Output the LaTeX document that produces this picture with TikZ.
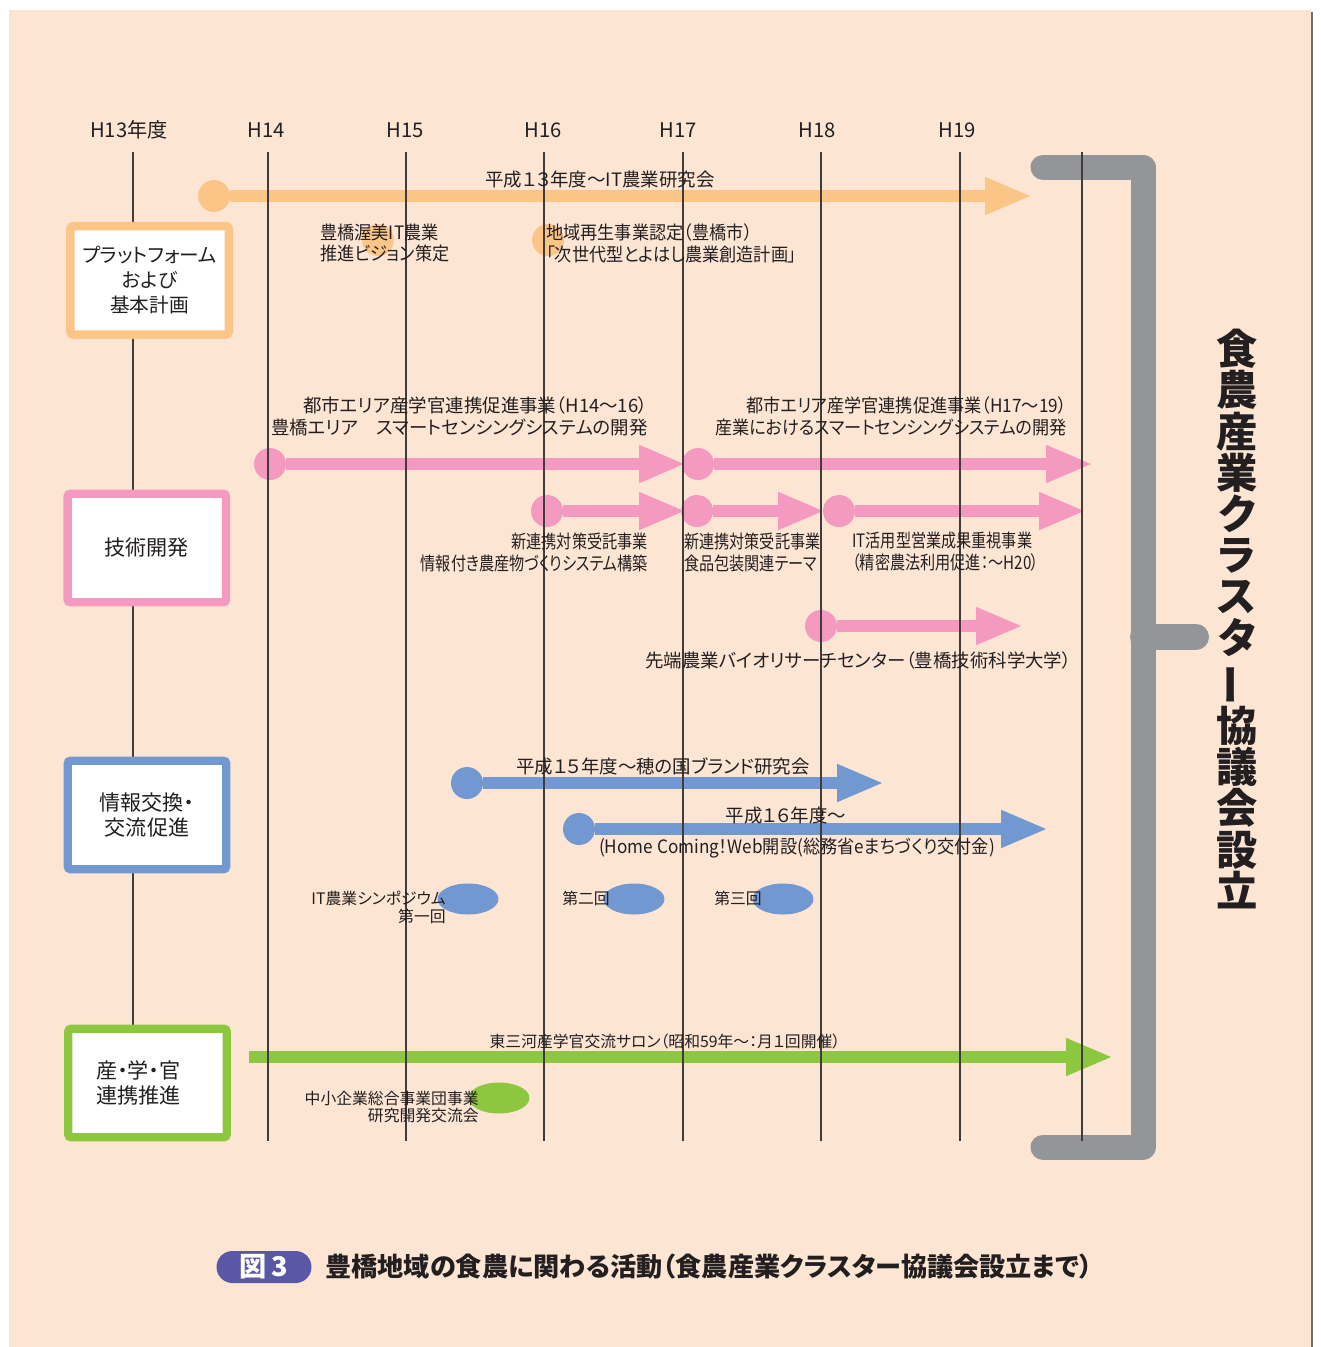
\documentclass[tikz,border=0pt]{standalone}
\usepackage{fontspec}
\setmainfont{Noto Sans CJK JP}[RawFeature=+palt]
\newfontfamily\narrowjp{Noto Sans CJK JP}[RawFeature=+palt,FakeStretch=0.82]
\newfontfamily\semijp{Noto Sans CJK JP}[RawFeature=+palt,FakeStretch=0.93]
\usetikzlibrary{arrows.meta,shapes.geometric}
\definecolor{peach}{RGB}{253,229,212}
\definecolor{ink}{RGB}{35,31,32}
\definecolor{linegrey}{RGB}{64,60,60}
\definecolor{orng}{RGB}{251,197,136}
\definecolor{pnk}{RGB}{244,154,193}
\definecolor{blu}{RGB}{113,152,208}
\definecolor{grn}{RGB}{141,198,63}
\definecolor{brk}{RGB}{147,149,152}
\definecolor{capblue}{RGB}{90,87,166}
\definecolor{edge}{RGB}{109,110,113}

\begin{document}
\begin{tikzpicture}[x=0.02cm,y=-0.02cm,
  grid/.style={draw=linegrey,line width=0.6pt},
  yr/.style={text=ink,font=\fontsize{11.5}{13}\selectfont,inner sep=0pt},
  lbl/.style={text=ink,font=\fontsize{10.5}{12.5}\selectfont,inner sep=0pt},
  nlbl/.style={text=ink,font=\narrowjp\fontsize{10.5}{12.5}\selectfont,inner sep=0pt},
  slbl/.style={text=ink,font=\semijp\fontsize{10.5}{12.5}\selectfont,inner sep=0pt},
  sml/.style={text=ink,font=\fontsize{9}{10.2}\selectfont,inner sep=0pt},
  cat/.style={draw=#1,fill=white,line width=0.168cm,rounded corners=0.06cm,minimum width=3.17cm,minimum height=2.17cm,text=ink,align=center,font=\fontsize{12}{14.2}\selectfont},
  dot/.style={circle,fill=#1,minimum size=0.64cm,inner sep=0pt},
  blob/.style={ellipse,fill=#1,minimum width=1.22cm,minimum height=0.62cm,inner sep=0pt},
  bar/.style={draw=#1,line width=0.24cm,-{Triangle[length=0.9cm,width=0.77cm,line width=0pt]}}]
  \useasboundingbox (0,0) rectangle (1320,1347);
  \fill[peach] (9,10) rectangle (1311,1347);
  \draw[edge,line width=0.05cm] (1312,12) -- (1312,1347);
  % bracket
  \draw[brk,line width=0.5cm,line cap=round,line join=round] (1043,167) -- (1143,167) -- (1143,1147) -- (1043,1147);
  \draw[brk,line width=0.52cm,line cap=round] (1143,637) -- (1196,637);

  % platform
  \node[dot=orng] (o1) at (214,196) {};
  \coordinate (o1e) at (1030,196);
  \draw[bar=orng] (o1) -- (o1e);
  \node[dot=orng] (o2) at (378,240) {};
  \node[dot=orng] (o3) at (548,240) {};

  % tech
  \foreach \n/\sx/\ex/\yy in {p1/270/684/464, p2/698/1091/464, p3/547/684/511, p4/697/823/511, p5/839/1084/511, p6/821/1021/626}{
    \node[dot=pnk] (\n) at (\sx,\yy) {};
    \coordinate (\n e) at (\ex,\yy);
    \draw[bar=pnk] (\n) -- (\n e);}

  % exchange
  \node[dot=blu] (b1) at (467,783) {};
  \coordinate (b1e) at (882,783);
  \draw[bar=blu] (b1) -- (b1e);
  \node[dot=blu] (b2) at (579,829) {};
  \coordinate (b2e) at (1046,829);
  \draw[bar=blu] (b2) -- (b2e);
  \foreach \n/\bx in {e1/468, e2/634, e3/783}
    \node[blob=blu] (\n) at (\bx,899) {};

  % cooperation
  \coordinate (g0) at (249,1057);
  \coordinate (g1) at (1111,1057);
  \draw[bar=grn] (g0) -- (g1);
  \node[blob=grn] (e4) at (499,1098) {};

  \foreach \gx in {133,268,406,544,683,821,960,1082}
    \draw[grid] (\gx,152) -- (\gx,1141);
  \foreach \yx/\yl [count=\k] in {129/H13年度, 266/H14, 405/H15, 543/H16, 678/H17, 817/H18, 957/H19}
    \node[yr] (yr\k) at (\yx,130) {\yl};

  \node[cat=orng,font=\fontsize{11.2}{14.2}\selectfont] (plat) at (149.6,280.4) {プラットフォーム\\および\\基本計画};
  \node[cat=pnk] (tech) at (146.8,548) {技術開発};
  \node[cat=blu] (info) at (147,815) {情報交換・\\交流促進};
  \node[cat=grn,align=left] (coop) at (147.5,1083) {産・学・官\\連携推進\rule{0.36cm}{0pt}};

  \node[lbl] (o1t) at (600,180) {平成１３年度～IT農業研究会};
  \node[slbl,anchor=west,align=left] (o2t) at (320,243) {豊橋渥美IT農業\\推進ビジョン策定};
  \node[slbl,anchor=west,align=left] (o3t) at (546,243) {地域再生事業認定（豊橋市）\\「次世代型とよはし農業創造計画」};

  \node[lbl,anchor=east,align=right] (p1t) at (648,416) {都市エリア産学官連携促進事業（H14～16）\\豊橋エリア　スマートセンシングシステムの開発};
  \node[slbl,anchor=east,align=right] (p2t) at (1067,416) {都市エリア産学官連携促進事業（H17～19）\\産業におけるスマートセンシングシステムの開発};
  \node[nlbl,anchor=east,align=right] (p3t) at (648,552) {新連携対策受託事業\\情報付き農産物づくりシステム構築};
  \node[nlbl,anchor=west,align=left] (p4t) at (684,552) {新連携対策受託事業\\食品包装関連テーマ};
  \node[nlbl,anchor=west,align=left] (p5t) at (852,552) {IT活用型営業成果重視事業\\（精密農法利用促進：～H20）};
  \node[lbl,anchor=east] (p6t) at (1072,660) {先端農業バイオリサーチセンター（豊橋技術科学大学）};

  \node[lbl] (b1t) at (663,766) {平成１５年度～穂の国ブランド研究会};
  \node[lbl] (b2t) at (786,816) {平成１６年度～};
  \node[slbl] (b2u) at (797,848) {(Home Coming！Web開設(総務省eまちづくり交付金)};
  \node[sml,anchor=east,align=right] (e1t) at (446,907) {IT農業シンポジウム\\第一回};
  \node[sml,anchor=west] (e2t) at (562,898) {第二回};
  \node[sml,anchor=west] (e3t) at (714,898) {第三回};

  \node[sml] (g1t) at (665,1041) {東三河産学官交流サロン（昭和59年～：月１回開催）};
  \node[sml,anchor=east,align=right] (e4t) at (479,1107) {中小企業総合事業団事業\\研究開発交流会};

  \node[text=ink,inner sep=0pt,align=center,font=\bfseries\fontsize{23.5}{23.45}\selectfont] (title) at (1237,619)
    {食\\農\\産\\業\\ク\\ラ\\ス\\タ\\\rotatebox[origin=c]{90}{ー}\\協\\議\\会\\設\\立};

  \node[fill=capblue,rounded corners=0.32cm,minimum width=1.9cm,minimum height=0.64cm,inner sep=0pt,text=white,font=\bfseries\fontsize{15.5}{17}\selectfont] (fig) at (264,1267) {図\,3};
  \node[anchor=west,inner sep=0pt,text=ink,font=\bfseries\fontsize{14.9}{16}\selectfont] (cap) at (325,1267) {豊橋地域の食農に関わる活動（食農産業クラスター協議会設立まで）};
\end{tikzpicture}
\end{document}
